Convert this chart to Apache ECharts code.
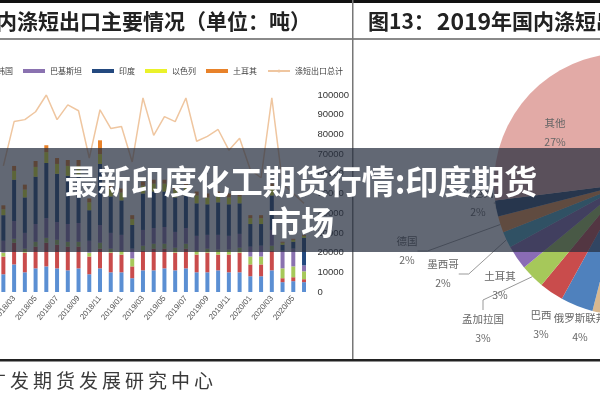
<!DOCTYPE html>
<html><head><meta charset="utf-8">
<script src="https://cdn.jsdelivr.net/npm/echarts/dist/echarts.min.js"></script>
<style>html,body{margin:0;padding:0;background:#fff}#c{width:600px;height:400px}</style>
</head><body><div id="c"></div>
<script>
// ---- left chart data (吨) ----
const months = ['2018/02','2018/03','2018/04','2018/05','2018/06','2018/07','2018/08','2018/09','2018/10','2018/11','2018/12',
  '2019/01','2019/02','2019/03','2019/04','2019/05','2019/06','2019/07','2019/08','2019/09','2019/10','2019/11','2019/12',
  '2020/01','2020/02','2020/03','2020/04','2020/05','2020/06'];
const yTicks = [0,10000,20000,30000,40000,50000,60000,70000,80000,90000,100000];
const usa      = [9000,14000,10000,12000,13000,12000,11000,12000,9000,12000,10000,10000,7000,11000,11000,12000,11000,12000,10000,10000,11000,10000,10000,8000,8000,11000,5000,5500,5000];
const vietnam  = [9000,11000,10000,11000,12000,12000,12000,11000,9000,10000,10000,9000,6000,10000,11000,10000,9000,10000,9000,10000,8000,9000,10000,6000,6000,10000,2000,2000,1500];
const korea    = [2000,2000,2000,2500,2500,2500,2500,2500,2000,3000,2000,2000,4000,2500,2500,2500,2500,2500,2000,2000,2500,2500,2500,4000,4000,2500,5000,5500,4000];
const pakistan = [6000,9000,8000,9000,10000,9000,9000,9500,6000,9000,8000,8000,5000,8000,8000,8500,8000,8000,7500,7000,7500,7000,7000,5000,5500,8000,9000,9000,3000];
const india    = [13000,21000,18000,24000,28000,24500,24500,24000,15500,31000,18500,17500,12000,18500,18500,18000,17500,16500,16500,15500,16500,16000,15500,11500,11000,17500,3000,3500,14000];
const israel   = [3000,4500,4000,5000,5500,5000,5000,5000,4000,5000,4000,4000,3000,4000,4000,4000,4000,4000,4000,3500,3500,3500,3500,3000,3000,4000,1000,1000,1000];
const turkey   = [2000,2500,2500,3000,3500,3000,3000,3000,2000,7000,2500,2000,2000,2000,2000,2000,2000,2000,2000,2000,2000,2000,2000,1500,1500,2000,500,500,500];
const totalExport = [64000,86500,87500,91500,100000,87500,95000,92000,68000,92500,83000,84000,66000,98500,79500,89000,86500,98500,76500,79000,82500,72000,78000,62000,58000,98500,55000,50000,45000];
const barNames = ['美国','越南','韩国','巴基斯坦','印度','以色列','土耳其'];
const lineName = '涤短出口总计';

// ---- right pie data (%) ----
const pieNames  = ['美国','越南','巴基斯坦','印度','韩国','印度尼西亚','伊朗','俄罗斯联邦','巴西','孟加拉国','土耳其','墨西哥','德国','以色列','其他'];
const pieValues = [11,10,9,8,6,5,5,4,3,3,3,2,2,2,27];

// ---- styles ----
const barColors = ['#5B8FD3','#C94C4C','#A6C85A','#8A72B0','#23497F','#EAF22A','#E8822A'];
const lineColor = '#EFC6A0';
const pieColors = ['#4F81BD','#C0504D','#9BBB59','#8064A2','#4BACC6','#F79646','#D9B88F','#4F81BD','#C94C4C','#A6C85A','#8A6CB5','#4BACC6','#F79646','#2C4D75','#E2AAA6'];
const pieLabelPos = {'其他':[555,133],'以色列':[478,203],'德国':[407,251],'墨西哥':[443,274],'土耳其':[500,286],'孟加拉国':[483,329],'巴西':[541,325],'俄罗斯联邦':[580,328]};
const pieWithLine = ['以色列','德国','墨西哥','孟加拉国'];

const barData = [usa, vietnam, korea, pakistan, india, israel, turkey];
const FONT = '"Noto Sans CJK SC", "Noto Sans", sans-serif';

const chart = echarts.init(document.getElementById('c'), null, {renderer:'canvas'});

const series = barData.map((d,i)=>({
  name: barNames[i], type:'bar', stack:'t', data:d, barWidth:4,
  itemStyle:{color:barColors[i]}, xAxisIndex:0, yAxisIndex:0
}));
series.push({name:lineName, type:'line', data:totalExport, symbol:'none', z:5,
  lineStyle:{color:lineColor, width:1.5}, itemStyle:{color:lineColor}});
series.push({
  type:'pie', center:[625,184], radius:131, startAngle:90, clockwise:true, avoidLabelOverlap:false,
  data: pieNames.map((n,i)=>({name:n, value:pieValues[i], itemStyle:{color:pieColors[i]},
    label:{show: pieLabelPos[n]!==undefined}, labelLine:{show: pieWithLine.indexOf(n)>=0}})),
  label:{formatter:'{b}\n{c}%', fontSize:10.5, lineHeight:19, color:'#666', fontFamily:FONT, align:'center'},
  labelLine:{length:10, length2:10, lineStyle:{color:'#999', width:1}},
  labelLayout: function(p){
    const n = pieNames[p.dataIndex];
    const pos = pieLabelPos[n];
    if(!pos) return {};
    return {x:pos[0], y:pos[1], align:'center', verticalAlign:'middle'};
  },
  emphasis:{disabled:true}
});

const graphics = [
  {type:'rect', shape:{x:0,y:0,width:600,height:3}, style:{fill:'#111'}, z:50},
  {type:'rect', shape:{x:0,y:38,width:600,height:2}, style:{fill:'#8a8a8a'}, z:50},
  {type:'rect', shape:{x:352,y:0,width:1.5,height:360}, style:{fill:'#777'}, z:50},
  {type:'rect', shape:{x:0,y:359,width:600,height:2.5}, style:{fill:'#222'}, z:50},
  {type:'text', x:-25, y:21, style:{text:'国内涤短出口主要情况（单位：吨）', font:'bold 21px '+FONT, fill:'#222', textVerticalAlign:'middle'}, z:50},
  {type:'text', x:368, y:21, style:{text:'图13：', font:'bold 21px '+FONT, fill:'#222', textVerticalAlign:'middle'}, z:50},
  {type:'text', x:464, y:21, style:{text:'2019', font:'bold 23px '+FONT, fill:'#222', textAlign:'center', textVerticalAlign:'middle'}, z:50},
  {type:'text', x:491, y:21, style:{text:'年国内涤短出口主要目的地', font:'bold 21px '+FONT, fill:'#222', textVerticalAlign:'middle'}, z:50},
  {type:'rect', shape:{x:0,y:148,width:600,height:104}, style:{fill:'rgba(38,46,62,0.72)'}, z:100},
  {type:'text', x:301, y:181, style:{text:'最新印度化工期货行情:印度期货', font:'bold 33px '+FONT, fill:'#fff', textAlign:'center', textVerticalAlign:'middle', shadowBlur:3, shadowColor:'rgba(0,0,0,0.5)'}, z:101},
  {type:'text', x:301, y:222, style:{text:'市场', font:'bold 33px '+FONT, fill:'#fff', textAlign:'center', textVerticalAlign:'middle', shadowBlur:3, shadowColor:'rgba(0,0,0,0.5)'}, z:101}
];
const footer = '广发期货发展研究中心';
for(let i=0;i<footer.length;i++){
  graphics.push({type:'text', x:-13+i*23, y:381, style:{text:footer[i], font:'19px '+FONT, fill:'#3a3a3a', textVerticalAlign:'middle'}, z:50});
}

chart.setOption({
  animation:false,
  backgroundColor:'#fff',
  legend:{
    left:-141, top:62, itemWidth:22, itemHeight:4, itemGap:10,
    textStyle:{fontSize:8, color:'#404040', fontFamily:FONT},
    data: barNames.map(n=>({name:n, icon:'rect'})).concat([{name:lineName}])
  },
  grid:{left:-2, right:290.6, top:95, bottom:108, containLabel:false, outerBoundsMode:'none'},
  xAxis:{type:'category', data:months, axisLine:{show:false}, axisTick:{show:false},
    axisLabel:{interval:function(i){return i%2===1;}, rotate:50, fontSize:8, color:'#555', margin:5, fontFamily:'"Liberation Sans", sans-serif'}},
  yAxis:{type:'value', position:'right', min:yTicks[0], max:yTicks[yTicks.length-1], interval:10000,
    splitLine:{show:false}, axisLine:{show:false}, axisTick:{show:false},
    axisLabel:{formatter:function(v){return String(v);}, fontSize:9.5, color:'#333', margin:8, align:'left', fontFamily:'"Liberation Sans", sans-serif'}},
  series: series,
  graphic: graphics
});
</script></body></html>
